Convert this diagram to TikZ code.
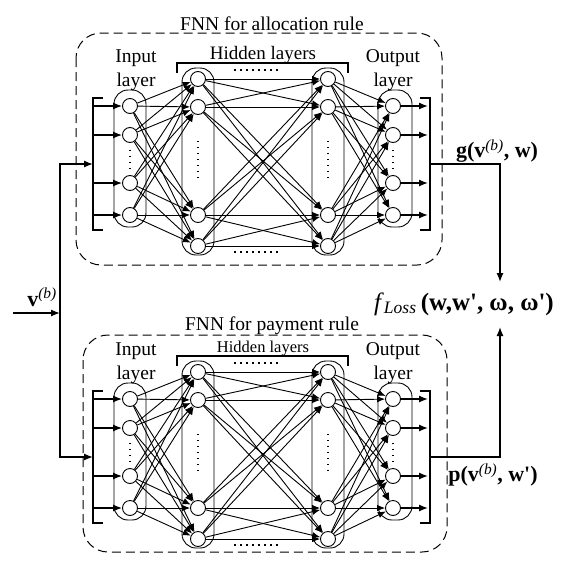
\documentclass[tikz,border=0pt]{standalone}
\usepackage{fontspec}
\setmainfont{Liberation Serif}
\usetikzlibrary{arrows.meta}

\tikzset{
  neuron/.style={circle,draw,line width=0.9pt,fill=white,minimum size=15pt,inner sep=0pt},
  column/.style={draw,line width=0.9pt,rounded corners=14pt},
  link/.style={line width=0.9pt,-{Latex[length=8pt,width=6.5pt]}},
  arr/.style={line width=1.3pt,-{Latex[length=9pt,width=7pt]}},
  brack/.style={line width=1.6pt},
  dotline/.style={line width=1.3pt,dash pattern=on 1.5pt off 4.5pt},
  netbox/.style={line width=1pt,dash pattern=on 9pt off 5pt,rounded corners=25pt},
  lbl/.style={font=\fontsize{19.5}{24}\selectfont,align=center},
}

% one network: #1 y shift, #2 name prefix, #3 font of the hidden label
\newcommand{\fnnet}[3]{%
\begin{scope}[shift={(0,#1)},name prefix=#2-]
  \foreach \n/\y in {1/106,2/135,3/183,4/215} {
    \node[neuron] (i\n) at (130,\y) {};
    \node[neuron] (o\n) at (393,\y) {};
  }
  \foreach \n/\y in {1/79,2/107,3/215,4/246} {
    \node[neuron] (h\n) at (198,\y) {};
    \node[neuron] (k\n) at (328,\y) {};
  }
  \draw[column] ([shift={(-16,-16)}]i1.center) rectangle ([shift={(16,12)}]i4.center);
  \draw[column] ([shift={(-15,-16)}]o1.center) rectangle ([shift={(19,12)}]o4.center);
  \draw[column] ([shift={(-16,-11)}]h1.center) rectangle ([shift={(16,9)}]h4.center);
  \draw[column] ([shift={(-16,-11)}]k1.center) rectangle ([shift={(16,9)}]k4.center);

  \coordinate (ibr) at (93,164);
  \coordinate (obr) at (430,164);
  \draw[brack] (103,98) -- (93,98) -- (93,230) -- (103,230);
  \draw[brack] (420,98) -- (430,98) -- (430,230) -- (420,230);
  \draw[brack] (177,73) -- (177,63) -- (348,63) -- (348,73);

  \foreach \n in {1,...,4} {
    \draw[arr] (i\n -| ibr) -- (i\n);
    \draw[arr,shorten >=2pt] (o\n) -- (o\n -| obr);
  }
  \foreach \a in {1,...,4}
    \foreach \b in {1,...,4} {
      \draw[link] (i\a) -- (h\b);
      \draw[link] (h\a) -- (k\b);
      \draw[link] (k\a) -- (o\b);
    }

  \draw[dotline,shorten <=7pt,shorten >=3pt] (i2) -- (i3);
  \draw[dotline,shorten <=7pt,shorten >=3pt] (o2) -- (o3);
  \draw[dotline,shorten <=26pt,shorten >=30pt] (h2) -- (h3);
  \draw[dotline,shorten <=26pt,shorten >=30pt] (k2) -- (k3);
  \draw[dotline] (234,70) -- (282,70);
  \draw[dotline] (234,252) -- (282,252);

  \node[lbl] (inlab) at (136,70) {Input\\layer};
  \node[lbl] (outlab) at (393,70) {Output\\layer};
  \node[anchor=base,font=#3] (hidlab) at (263,59) {Hidden layers};
\end{scope}}

\begin{document}
\begin{tikzpicture}[x=1pt,y=-1pt]
  \useasboundingbox (0,0) rectangle (572,581);

  \draw[netbox] (76,33) rectangle (442,265);
  \draw[netbox] (83,335) rectangle (447,552);
  \node[lbl,anchor=base] (atitle) at (272,30) {FNN for allocation rule};
  \node[lbl,anchor=base] (btitle) at (272,330) {FNN for payment rule};

  \fnnet{0}{a}{\fontsize{19}{24}\selectfont}
  \fnnet{293}{b}{\fontsize{16.5}{20}\selectfont}

  \coordinate (vin) at (13,313);
  \coordinate (vsplit) at (60,313);
  \draw[arr] (vin) -- (vsplit);
  \node[font=\fontsize{22}{26}\selectfont] (vlab) at (42,297) {\textbf{v}\textsuperscript{\itshape (b)}};
  \draw[arr] (vsplit) |- (a-ibr);
  \draw[arr] (vsplit) |- (b-ibr);

  \node[font=\fontsize{25}{29}\selectfont] (floss) at (464,304)
    {\textit{f}\textsubscript{\itshape Loss}\,\textbf{(w,w\textquotesingle, ω, ω\textquotesingle)}};
  \coordinate (gin) at (500,282);
  \coordinate (pin) at (500,327);
  \draw[arr] (a-obr) -| (gin);
  \draw[arr] (b-obr) -| (pin);
  \node[font=\fontsize{22}{26}\selectfont] (glab) at (497,151) {\textbf{g(v}\textsuperscript{\itshape (b)}\textbf{, w)}};
  \node[font=\fontsize{22}{26}\selectfont] (plab) at (493,475) {\textbf{p(v}\textsuperscript{\itshape (b)}\textbf{, w\textquotesingle)}};
\end{tikzpicture}
\end{document}
